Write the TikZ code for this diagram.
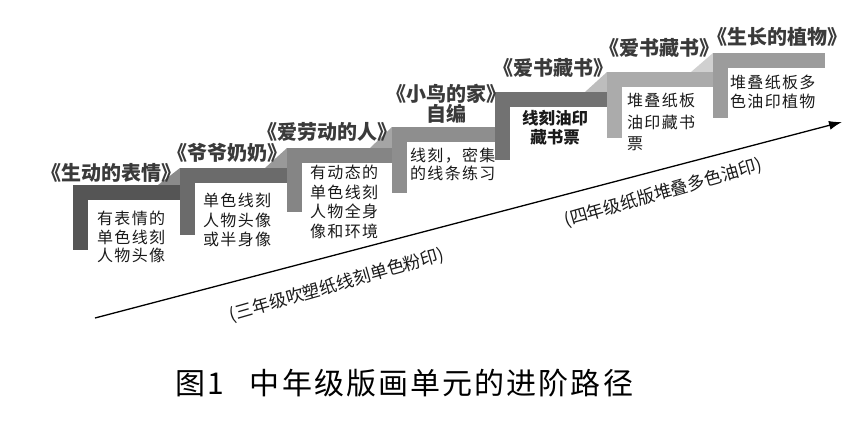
\documentclass[tikz,border=0pt]{standalone}
\usepackage{fontspec}
\setmainfont{Noto Sans CJK SC}
\usetikzlibrary{arrows.meta}
\definecolor{sA}{HTML}{555555}
\definecolor{sB}{HTML}{6B6B6B}
\definecolor{sC}{HTML}{858585}
\definecolor{sD}{HTML}{8E8E8E}
\definecolor{sE}{HTML}{727272}
\definecolor{sF}{HTML}{ABABAB}
\definecolor{sG}{HTML}{9C9C9C}
\definecolor{rA}{HTML}{8A8A8A}
\definecolor{rB}{HTML}{999999}
\definecolor{rC}{HTML}{A5A5A5}
\definecolor{rE}{HTML}{BDBDBD}
\definecolor{rF}{HTML}{D0D0D0}
\definecolor{ttl}{HTML}{3A3A3A}
\definecolor{bdy}{HTML}{1A1A1A}
\tikzset{
  ttlnode/.style={inner sep=0pt, text=ttl, font=\fontsize{20}{20}\selectfont\bfseries, align=center},
  bodynode/.style={inner sep=0pt, anchor=west, text=bdy, align=left,
    font=\fontsize{16}{19.5}\selectfont\addfontfeatures{LetterSpace=8}},
  lblnode/.style={inner sep=0pt, text=bdy, font=\fontsize{17.5}{18}\selectfont},
}
\begin{document}
\begin{tikzpicture}[x=1pt,y=-1pt]
\useasboundingbox (0,0) rectangle (853,421);
% ramps
\foreach \r/\t/\tn/\c in {180/185/168/rA, 287/168/148/rB, 392/148/127/rC, 607/92/72/rE, 713/72/53/rF}
  \fill[\c] (\r-22,\t) -- (\r,\tn) -- (\r,\t) -- cycle;
% steps
\foreach \x/\t/\b/\r/\c in {73/185/250/180/sA, 180/168/235/287/sB, 287/148/212/392/sC,
  392/127/193/497/sD, 495/92/160/607/sE, 607/72/138/713/sF, 713/53/118/825/sG}{
  \fill[\c] (\x,\t) rectangle (\x+15,\b);
  \fill[\c] (\x,\t) rectangle (\r,\t+15);
}
% titles
\node[ttlnode] (t1) at (111,173) {《生动的表情》};
\node[ttlnode] (t2) at (227,153) {《爷爷奶奶》};
\node[ttlnode] (t3) at (327,132) {《爱劳动的人》};
\node[ttlnode, font=\fontsize{20}{19}\selectfont\bfseries] (t4) at (446,104) {《小鸟的家》\\自编};
\node[ttlnode] (t5) at (553,68) {《爱书藏书》};
\node[ttlnode] (t6) at (659,48) {《爱书藏书》};
\node[ttlnode] (t7) at (777,37) {《生长的植物》};
% bodies
\node[bodynode, font=\fontsize{16}{18.5}\selectfont\addfontfeatures{LetterSpace=8}] (b1) at (97,237) {有表情的\\单色线刻\\人物头像};
\node[bodynode] (b2) at (203,220) {单色线刻\\人物头像\\或半身像};
\node[bodynode] (b3) at (310,202) {有动态的\\单色线刻\\人物全身\\像和环境};
\node[bodynode, font=\fontsize{16}{18}\selectfont\addfontfeatures{LetterSpace=8}] (b4) at (410,164) {线刻，密集\\的线条练习};
\node[bodynode, anchor=center, align=center, font=\fontsize{16.5}{19}\selectfont\bfseries] (b5) at (555,128) {线刻油印\\藏书票};
\node[bodynode, font=\fontsize{16}{21.5}\selectfont\addfontfeatures{LetterSpace=8}] (b6) at (627,122) {堆叠纸板\\油印藏书\\票};
\node[bodynode] (b7) at (730,92) {堆叠纸板多\\色油印植物};
% arrow
\coordinate (s) at (95,318);
\coordinate (e) at (842,122);
\draw[line width=1.3pt, -{Latex[length=13pt,width=9pt]}] (s) -- (e);
\node[lblnode, rotate=16] (l1) at (337,285) {(三年级吹塑纸线刻单色粉印)};
\node[lblnode, rotate=16] (l2) at (663,193) {(四年级纸版堆叠多色油印)};
% caption
\node[inner sep=0pt, anchor=west, text=black, font=\fontsize{30}{30}\selectfont\addfontfeatures{LetterSpace=7}] (cap) at (175,383) {图1\hspace{26pt}中年级版画单元的进阶路径};
\end{tikzpicture}
\end{document}
